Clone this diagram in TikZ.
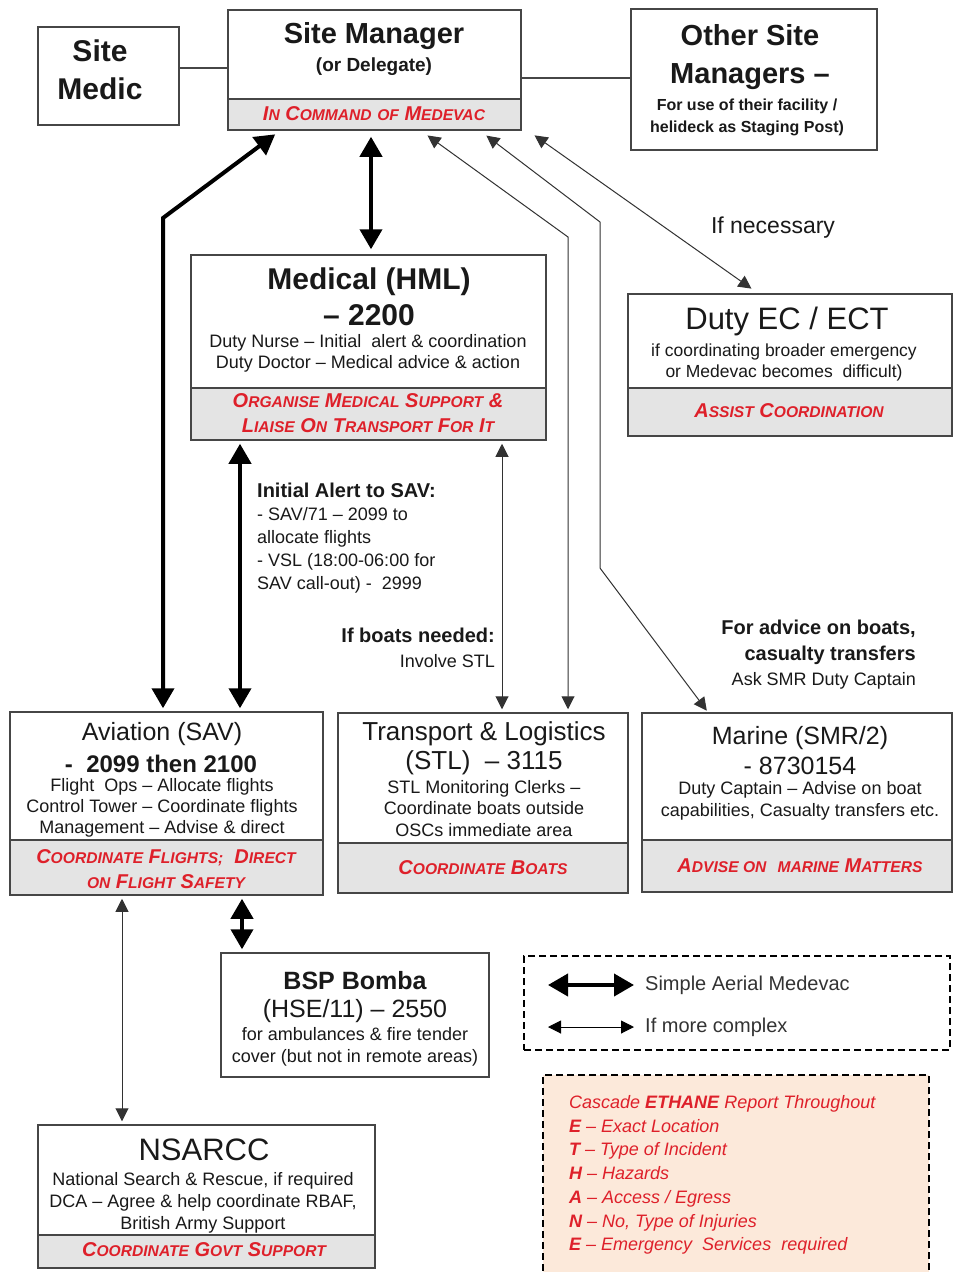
\documentclass[tikz,border=0pt]{standalone}
\usepackage{fontspec}
\setmainfont{Liberation Sans}
\usetikzlibrary{arrows.meta}
\makeatletter
\newdimen\scdim
\newcommand\SC[2]{#1{\scdim=\f@size pt\scdim=0.78\scdim\fontsize{\scdim}{\scdim}\selectfont #2}}
\makeatother
\newcommand\fs[2]{\fontsize{#1}{#2}\selectfont}
\definecolor{redtxt}{RGB}{222,32,42}
\definecolor{boxline}{RGB}{70,70,70}
\definecolor{bandgrey}{RGB}{228,228,228}
\definecolor{peach}{RGB}{252,233,218}
\definecolor{thinline}{RGB}{50,50,50}
\definecolor{bodytxt}{RGB}{25,25,25}
\tikzset{
 box/.style={draw=boxline, line width=1.5pt, fill=white, inner sep=0pt},
 band/.style={draw=boxline, line width=1.5pt, fill=bandgrey, inner sep=0pt},
 dbox/.style={draw=black, line width=2.2pt, dash pattern=on 7pt off 4pt, inner sep=0pt},
 txt/.style={inner sep=0pt, align=center, text=bodytxt},
 redt/.style={inner sep=0pt, align=center, text=redtxt, font=\fs{20}{25}\bfseries\itshape},
 thk/.style={line width=4pt, draw=black, {Triangle[length=20pt,width=22pt]}-{Triangle[length=20pt,width=22pt]}},
 thn/.style={line width=1pt, draw=thinline, {Triangle[length=13pt,width=13pt]}-{Triangle[length=13pt,width=13pt]}},
 conn/.style={line width=1.5pt, draw=boxline},
}
\begin{document}
\begin{tikzpicture}[x=1pt,y=-1pt]
\useasboundingbox[fill=white] (0,0) rectangle (954,1272);

% ---------- boxes ----------
\node[box, minimum width=141pt, minimum height=98pt] (medic) at (108.5,76) {};
\node[box, minimum width=293pt, minimum height=120pt] (sm) at (374.5,70) {};
\node[band, minimum width=293pt, minimum height=31pt] (smband) at (374.5,114.5) {};
\node[box, minimum width=246pt, minimum height=141pt] (other) at (754,79.5) {};

\node[box, minimum width=355pt, minimum height=185pt] (med) at (368.5,347.5) {};
\node[band, minimum width=355pt, minimum height=52pt] (medband) at (368.5,414) {};

\node[box, minimum width=324pt, minimum height=142pt] (ec) at (790,365) {};
\node[band, minimum width=324pt, minimum height=48pt] (ecband) at (790,412) {};

\node[box, minimum width=313pt, minimum height=183pt] (av) at (166.5,803.5) {};
\node[band, minimum width=313pt, minimum height=55pt] (avband) at (166.5,867.5) {};

\node[box, minimum width=290pt, minimum height=180pt] (tl) at (483,803) {};
\node[band, minimum width=290pt, minimum height=50pt] (tlband) at (483,868) {};

\node[box, minimum width=310pt, minimum height=179pt] (mar) at (797,802.5) {};
\node[band, minimum width=310pt, minimum height=52pt] (marband) at (797,866) {};

\node[box, minimum width=268pt, minimum height=124pt] (bsp) at (355,1015) {};

\node[dbox, minimum width=426pt, minimum height=94pt] (leg) at (737,1003) {};

\node[box, minimum width=337pt, minimum height=143pt] (nsa) at (206.5,1196.5) {};
\node[band, minimum width=337pt, minimum height=33pt] (nsaband) at (206.5,1251.5) {};

\node[dbox, fill=peach, minimum width=386pt, minimum height=205pt] (eth) at (736,1177.5) {};

% ---------- texts ----------
\node[txt, font=\fs{30}{38}\bfseries] (medict) at (100,70) {Site\\Medic};
\node[txt, font=\fs{29}{34}\bfseries] (smt) at (374,36) {Site Manager};
\node[txt, font=\fs{19}{22}\bfseries] (smd) at (374,67) {(or Delegate)};
\node[redt] (smr) at (374,114) {\SC{I}{N} \SC{C}{OMMAND} \SC{}{OF} \SC{M}{EDEVAC}};
\node[txt, font=\fs{29}{38}\bfseries] (othert) at (750,57) {Other Site\\Managers –};
\node[txt, font=\fs{16}{22}\bfseries] (otherb) at (747,117) {For use of their facility /\\helideck as Staging Post)};

\node[txt, font=\fs{30}{36}\bfseries] (medt) at (369,297) {Medical (HML)\\– 2200};
\node[txt, font=\fs{18}{21}] (medb) at (368,353.5) {Duty Nurse – Initial\ \ alert \& coordination\\Duty Doctor – Medical advice \& action};
\node[redt] (medr) at (368,413.5) {\SC{O}{RGANISE} \SC{M}{EDICAL} \SC{S}{UPPORT} \&\\\SC{L}{IAISE} \SC{O}{N} \SC{T}{RANSPORT} \SC{F}{OR} \SC{I}{T}};

\node[txt, font=\fs{31}{36}] (ect) at (787,321) {Duty EC / ECT};
\node[txt, font=\fs{17.5}{21}] (ecb) at (784,362.5) {if coordinating broader emergency\\or Medevac becomes\ \ difficult)};
\node[redt] (ecr) at (789,411) {\SC{A}{SSIST} \SC{C}{OORDINATION}};

\node[txt, font=\fs{25}{30}] (avt) at (162,734) {Aviation (SAV)};
\node[txt, font=\fs{24}{30}\bfseries] (avn) at (161,764) {-\ \ 2099 then 2100};
\node[txt, font=\fs{18}{21}] (avb) at (162,808) {Flight\ \ Ops – Allocate flights\\Control Tower – Coordinate flights\\Management – Advise \& direct};
\node[redt] (avr) at (166,869.5) {\SC{C}{OORDINATE} \SC{F}{LIGHTS;}\ \ \SC{D}{IRECT}\\\SC{}{ON} \SC{F}{LIGHT} \SC{S}{AFETY}};

\node[txt, font=\fs{26}{29}] (tlt) at (484,748.5) {Transport \& Logistics\\(STL)\ \ – 3115};
\node[txt, font=\fs{18}{21.5}] (tlb) at (484,808.5) {STL Monitoring Clerks –\\Coordinate boats outside\\OSCs immediate area};
\node[redt] (tlr) at (483,868) {\SC{C}{OORDINATE} \SC{B}{OATS}};

\node[txt, font=\fs{25}{30}] (mart) at (800,751) {Marine (SMR/2)\\- 8730154};
\node[txt, font=\fs{18}{22}] (marb) at (800,801) {Duty Captain – Advise on boat\\capabilities, Casualty transfers etc.};
\node[redt] (marr) at (800,866) {\SC{A}{DVISE ON}\ \ \SC{}{MARINE} \SC{M}{ATTERS}};

\node[txt, font=\fs{25}{30}\bfseries] (bspt) at (355,981) {BSP Bomba};
\node[txt, font=\fs{25}{30}] (bspn) at (355,1011) {(HSE/11) – 2550};
\node[txt, font=\fs{18}{22}] (bspb) at (355,1047) {for ambulances \& fire tender\\cover (but not in remote areas)};

\node[txt, font=\fs{31}{36}] (nsat) at (204,1150) {NSARCC};
\node[txt, font=\fs{18}{22}] (nsab) at (203,1203) {National Search \& Rescue, if required\\DCA – Agree \& help coordinate RBAF,\\British Army Support};
\node[redt] (nsar) at (204,1250) {\SC{C}{OORDINATE} \SC{G}{OVT} \SC{S}{UPPORT}};

\node[txt, align=left, anchor=west, font=\fs{18}{23}] (alert) at (257,538) {{\bfseries\fs{20}{23}Initial Alert to SAV:}\\- SAV/71 – 2099 to\\allocate flights\\- VSL (18:00-06:00 for\\SAV call-out) -\ \ 2999};
\node[txt, align=right, anchor=east, font=\fs{18}{25}] (boats) at (495,647.5) {{\bfseries\fs{20}{25}If boats needed:}\\Involve STL};
\node[txt, align=right, anchor=east, font=\fs{18}{25.5}] (advice) at (916,655) {{\bfseries\fs{20}{25.5}For advice on boats,}\\{\bfseries\fs{20}{25.5}casualty transfers}\\Ask SMR Duty Captain};
\node[txt, font=\fs{23}{26}] (nec) at (773,228) {If necessary};

\node[txt, anchor=west, font=\fs{20}{24}, text=black!80] (leg1) at (645,985) {Simple Aerial Medevac};
\node[txt, anchor=west, font=\fs{20}{24}, text=black!80] (leg2) at (645,1027) {If more complex};

\node[txt, align=left, anchor=west, text=redtxt, font=\fs{18}{23.67}\itshape] (etht) at (569,1175)
 {Cascade \textbf{ETHANE} Report Throughout\\
  \textbf{E} – Exact Location\\
  \textbf{T} – Type of Incident\\
  \textbf{H} – Hazards\\
  \textbf{A} – Access / Egress\\
  \textbf{N} – No, Type of Injuries\\
  \textbf{E} – Emergency\ \ Services\ \ required};

% ---------- helper coordinates ----------
\coordinate (y68) at (0,68);
\coordinate (y78) at (0,78);
\coordinate (x163) at (163,0);
\coordinate (x280) at (280,0);
\coordinate (x372) at (371,0);
\coordinate (x240) at (240,0);
\coordinate (x502) at (502,0);
\coordinate (x421) at (421,0);
\coordinate (x568) at (568,0);
\coordinate (x480) at (480,0);
\coordinate (x708) at (708,0);
\coordinate (x528) at (528,0);
\coordinate (x758) at (758,0);
\coordinate (x122) at (122,0);
\coordinate (x242) at (242,0);
\coordinate (bendAv) at (163,218);
\coordinate (bendTl) at (568,237);
\coordinate (bendM1) at (600,222);
\coordinate (bendM2) at (600,568);
\coordinate (l1a) at (548,985);
\coordinate (l1b) at (634,985);
\coordinate (l2a) at (548,1027);
\coordinate (l2b) at (634,1027);

% ---------- connectors ----------
\draw[conn] (medic.east |- y68) -- (sm.west |- y68);
\draw[conn] (sm.east |- y78) -- (other.west |- y78);

\draw[thk, shorten <=3pt, shorten >=6pt] (av.north -| x163) -- (bendAv) -- (sm.south -| x280);
\draw[thk, shorten <=6pt, shorten >=5pt] (sm.south -| x372) -- (med.north -| x372);
\draw[thk, shorten <=3pt, shorten >=3pt] (med.south -| x240) -- (av.north -| x240);
\draw[thn, shorten <=3pt, shorten >=3pt] (med.south -| x502) -- (tl.north -| x502);
\draw[thn, shorten <=8pt, shorten >=3pt] (sm.south -| x421) -- (bendTl) -- (tl.north -| x568);
\draw[thn, shorten <=8pt, shorten >=2pt] (sm.south -| x480) -- (bendM1) -- (bendM2) -- (mar.north -| x708);
\draw[thn, shorten <=8pt, shorten >=8pt] (sm.south -| x528) -- (ec.north -| x758);
\draw[thn, shorten <=3pt, shorten >=3pt] (av.south -| x122) -- (nsa.north -| x122);
\draw[thk, shorten <=3pt, shorten >=3pt] (av.south -| x242) -- (bsp.north -| x242);

\draw[thk] (l1a) -- (l1b);
\draw[thn, draw=black] (l2a) -- (l2b);
\end{tikzpicture}
\end{document}
